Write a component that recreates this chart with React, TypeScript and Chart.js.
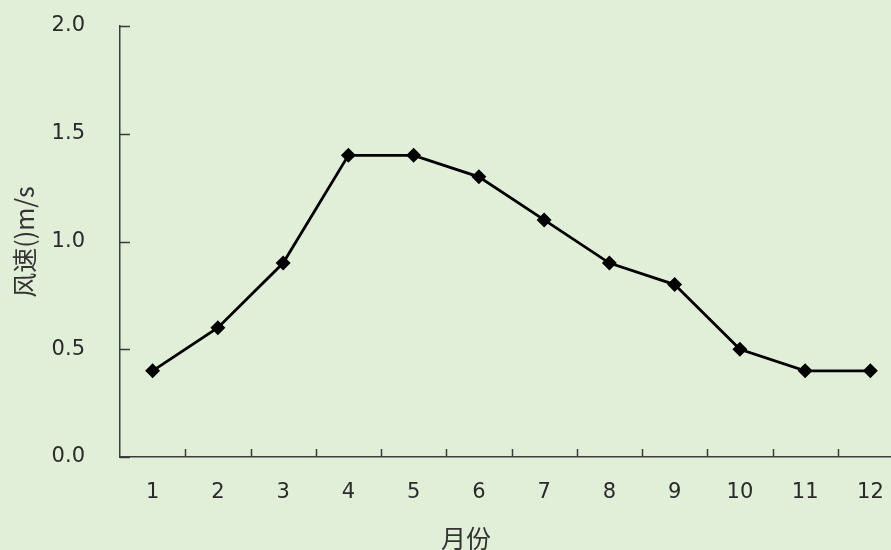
import React, { useEffect, useRef } from "react";
import { Chart, registerables } from "chart.js";

Chart.register(...registerables);

const months = ["1", "2", "3", "4", "5", "6", "7", "8", "9", "10", "11", "12"];
const windSpeed = [0.4, 0.6, 0.9, 1.4, 1.4, 1.3, 1.1, 0.9, 0.8, 0.5, 0.4, 0.4];
const yTitle = "风速()m/s";
const xTitle = "月份";

const BG = "#e1eed8";
const AXIS = "#3c3c3c";
const FONT = "'DejaVu Sans', sans-serif";
const CJK = "'Noto Sans CJK SC', 'DejaVu Sans', sans-serif";

// Inward tick marks on both axes plus the two axis titles.
const axisDecor = {
  id: "axisDecor",
  afterDraw(chart: any) {
    const { ctx, chartArea, scales } = chart;
    const x = scales.x;
    const y = scales.y;
    ctx.save();
    ctx.strokeStyle = AXIS;
    ctx.lineWidth = 1.5;
    ctx.beginPath();
    y.ticks.forEach((t: any) => {
      const py = Math.round(y.getPixelForValue(t.value)) + 0.5;
      ctx.moveTo(chartArea.left, py);
      ctx.lineTo(chartArea.left + 10, py);
    });
    for (let i = 1; i < months.length; i++) {
      const px = Math.round((x.getPixelForValue(i - 1) + x.getPixelForValue(i)) / 2) + 0.5;
      ctx.moveTo(px, chartArea.bottom);
      ctx.lineTo(px, chartArea.bottom - 8);
    }
    ctx.stroke();

    ctx.fillStyle = "#333333";
    ctx.font = `25px ${CJK}`;
    ctx.textAlign = "center";
    ctx.textBaseline = "middle";
    ctx.fillText(xTitle, 466, 538);
    ctx.translate(24, 242);
    ctx.rotate(-Math.PI / 2);
    ctx.fillText(yTitle, 0, 0);
    ctx.restore();
  },
};

function WindChart() {
  const ref = useRef<HTMLCanvasElement | null>(null);
  useEffect(() => {
    if (!ref.current) return;
    const chart = new Chart(ref.current, {
      type: "line",
      data: {
        labels: months,
        datasets: [
          {
            data: windSpeed,
            borderColor: "#000000",
            backgroundColor: "#000000",
            borderWidth: 2.8,
            pointStyle: "rectRot",
            pointRadius: 5.5,
            pointBackgroundColor: "#000000",
            pointBorderColor: "#000000",
            tension: 0,
          },
        ],
      },
      options: {
        animation: false,
        responsive: false,
        devicePixelRatio: 1,
        layout: { padding: { left: 0, right: 17, top: 26, bottom: 0 } },
        plugins: { legend: { display: false }, tooltip: { enabled: false } },
        scales: {
          x: {
            offset: true,
            grid: { display: false, drawTicks: false, offset: true },
            border: { display: true, color: AXIS, width: 1.5 },
            ticks: { color: "#2a2a2a", font: { family: FONT, size: 21 }, padding: 23 },
            afterFit: (s: any) => {
              s.height = 93;
            },
          },
          y: {
            min: 0,
            max: 2,
            grid: { display: false, drawTicks: false },
            border: { display: true, color: AXIS, width: 1.5 },
            ticks: {
              stepSize: 0.5,
              color: "#2a2a2a",
              font: { family: FONT, size: 21 },
              padding: 35,
              callback: (v: any) => Number(v).toFixed(1),
            },
            afterFit: (s: any) => {
              s.width = 120;
              s.paddingTop = 0;
              s.paddingBottom = 0;
            },
          },
        },
      },
      plugins: [axisDecor],
    });
    return () => chart.destroy();
  }, []);
  return <canvas ref={ref} width={920} height={550} style={{ display: "block" }} />;
}

export default function App() {
  return (
    <div
      style={{
        position: "fixed",
        left: 0,
        top: 0,
        width: 891,
        height: 550,
        overflow: "hidden",
        background: BG,
      }}
    >
      <WindChart />
    </div>
  );
}
